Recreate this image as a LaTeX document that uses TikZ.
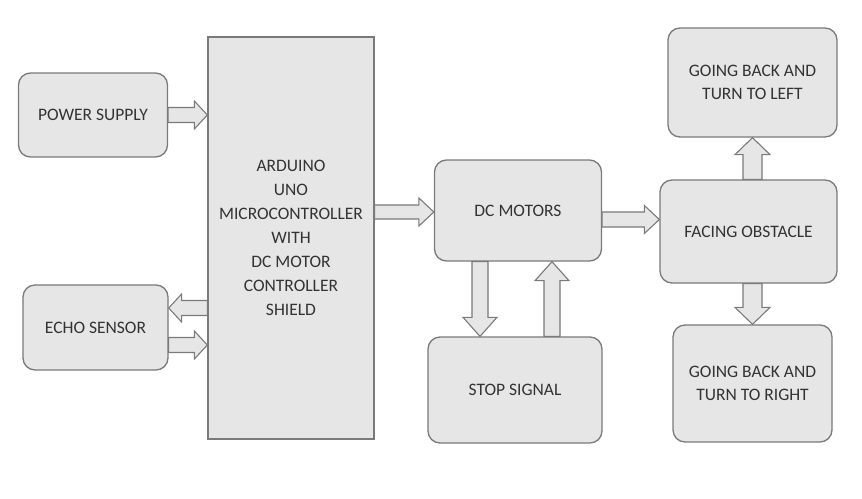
\documentclass[tikz,border=0pt]{standalone}
\usepackage{fontspec}
\setmainfont{Carlito}
\usetikzlibrary{calc}
\definecolor{boxfill}{HTML}{E6E6E6}
\definecolor{boxline}{HTML}{7A7A7A}
\definecolor{txt}{HTML}{333333}
\tikzset{
  box/.style={draw=boxline, line width=1.3pt, fill=boxfill, rounded corners=12pt,
    align=center, text=txt, font=\fontsize{17.5}{22.5}\selectfont, inner sep=0pt},
  sqbox/.style={box, rounded corners=0pt, font=\fontsize{17.5}{24}\selectfont},
  barrow/.style={draw=boxline, line width=1.1pt, fill=boxfill, line join=miter}
}
% #1 from, #2 to, #3 shaft half width, #4 head half width, #5 head length
\newcommand{\blockarrow}[5]{%
  \path[barrow] let \p1=(#1), \p2=(#2),
      \n1={veclen(\x2-\x1,\y2-\y1)}, \n2={atan2(\y2-\y1,\x2-\x1)} in
    ($(\p1)+(\n2+90:#3pt)$)
    -- ($(\p1)+(\n2:{\n1-#5pt})+(\n2+90:#3pt)$)
    -- ($(\p1)+(\n2:{\n1-#5pt})+(\n2+90:#4pt)$)
    -- (\p2)
    -- ($(\p1)+(\n2:{\n1-#5pt})+(\n2-90:#4pt)$)
    -- ($(\p1)+(\n2:{\n1-#5pt})+(\n2-90:#3pt)$)
    -- ($(\p1)+(\n2-90:#3pt)$) -- cycle;%
}
\begin{document}
\begin{tikzpicture}[x=1pt,y=-1pt]
\useasboundingbox[fill=white] (0,0) rectangle (862,498);

\node[box, minimum width=149pt, minimum height=84pt] (pw) at (93,115) {POWER SUPPLY};
\node[sqbox, minimum width=166pt, minimum height=402pt] (ard) at (291,238)
  {ARDUINO\\UNO\\MICROCONTROLLER\\WITH\\DC MOTOR\\CONTROLLER\\SHIELD};
\node[box, minimum width=145pt, minimum height=85pt] (echo) at (95.5,327.5) {ECHO SENSOR};
\node[box, minimum width=167pt, minimum height=101pt] (dc) at (518,210.5) {DC MOTORS};
\node[box, minimum width=174pt, minimum height=106pt] (stop) at (515,390) {STOP SIGNAL};
\node[box, minimum width=177pt, minimum height=103pt] (face) at (748.5,231.5) {FACING OBSTACLE};
\node[box, minimum width=169pt, minimum height=109pt] (left) at (752.5,82.5) {GOING BACK AND\\TURN TO LEFT};
\node[box, minimum width=159pt, minimum height=117pt] (right) at (752.5,383.5) {GOING BACK AND\\TURN TO RIGHT};

\coordinate (a1s) at (pw.east);
\coordinate (a1e) at (pw.east -| ard.west);
\blockarrow{a1s}{a1e}{7.5}{14}{13}

\coordinate (a2s) at ($(echo.east)+(0,-19.5)$);
\coordinate (a2e) at (a2s -| ard.west);
\blockarrow{a2e}{a2s}{7.5}{14}{13}

\coordinate (a3s) at ($(echo.east)+(0,17.5)$);
\coordinate (a3e) at (a3s -| ard.west);
\blockarrow{a3s}{a3e}{7.5}{14}{13}

\coordinate (a4e) at ($(dc.west)+(0,1.5)$);
\coordinate (a4s) at (a4e -| ard.east);
\blockarrow{a4s}{a4e}{7}{14}{15}

\coordinate (a5s) at ($(dc.east)+(0,9)$);
\coordinate (a5e) at (a5s -| face.west);
\blockarrow{a5s}{a5e}{7.5}{14}{15}

\coordinate (a6s) at ($(dc.south)+(-38,0)$);
\coordinate (a6e) at (a6s |- stop.north);
\blockarrow{a6s}{a6e}{8}{17}{19}

\coordinate (a7s) at ($(dc.south)+(34,0)$);
\coordinate (a7e) at (a7s |- stop.north);
\blockarrow{a7e}{a7s}{8}{17}{19}

\coordinate (a8s) at ($(face.north)+(4,0)$);
\coordinate (a8e) at (a8s |- left.south);
\blockarrow{a8s}{a8e}{9.5}{17.5}{17}

\coordinate (a9s) at ($(face.south)+(4,0)$);
\coordinate (a9e) at (a9s |- right.north);
\blockarrow{a9s}{a9e}{9.5}{17.5}{17}
\end{tikzpicture}
\end{document}
